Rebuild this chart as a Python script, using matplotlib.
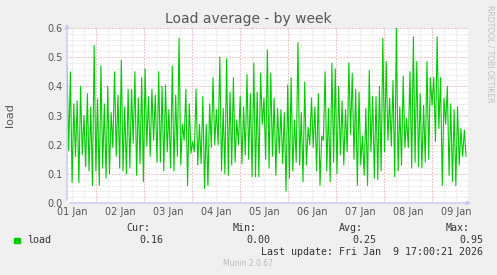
import numpy as np
import matplotlib
matplotlib.use('Agg')
from matplotlib import pyplot as plt

# time range in days after 01 Jan 00:00
t_start = 0.396
t_end = 8.708

# load samples (peak / trough pairs)
load = [
    0.47, 0.18, 0.45, 0.07, 0.34, 0.16, 0.35, 0.07, 0.40, 0.165, 0.30, 0.125, 0.375, 0.11,
    0.33, 0.06, 0.54, 0.11, 0.355, 0.06, 0.47, 0.12, 0.34, 0.085, 0.40, 0.10, 0.31, 0.19,
    0.45, 0.16, 0.37, 0.12, 0.49, 0.11, 0.33, 0.10, 0.39, 0.12, 0.39, 0.205, 0.45, 0.095,
    0.36, 0.135, 0.43, 0.073, 0.46, 0.195, 0.365, 0.16, 0.39, 0.215, 0.37, 0.14, 0.45, 0.14,
    0.40, 0.11, 0.405, 0.175, 0.32, 0.12, 0.47, 0.11, 0.37, 0.16, 0.565, 0.13, 0.27, 0.215,
    0.39, 0.06, 0.34, 0.17, 0.21, 0.175, 0.39, 0.13, 0.27, 0.135, 0.365, 0.05, 0.27, 0.06,
    0.34, 0.19, 0.43, 0.20,
    0.32, 0.20, 0.50, 0.11, 0.325, 0.10, 0.495, 0.095, 0.38, 0.13, 0.43, 0.14, 0.285, 0.20,
    0.365, 0.135, 0.33, 0.165, 0.44, 0.15, 0.375, 0.09, 0.48, 0.09, 0.38, 0.09, 0.445, 0.27,
    0.36, 0.15, 0.525, 0.12, 0.445, 0.16, 0.36, 0.095, 0.325, 0.17, 0.32, 0.135, 0.31, 0.04,
    0.405, 0.085, 0.43, 0.11, 0.285, 0.14, 0.55, 0.13, 0.31, 0.073, 0.415, 0.13, 0.26, 0.20,
    0.36, 0.19, 0.33, 0.11, 0.375, 0.06, 0.23, 0.215, 0.45, 0.11, 0.325, 0.073, 0.48, 0.14,
    0.46, 0.10, 0.40, 0.165, 0.35, 0.13, 0.32, 0.175, 0.48, 0.235, 0.445, 0.15, 0.39, 0.06,
    0.38, 0.13, 0.23, 0.095, 0.325, 0.06, 0.455, 0.175, 0.365, 0.085, 0.365, 0.08, 0.40, 0.11,
    0.565, 0.175, 0.485, 0.215, 0.36, 0.195, 0.42, 0.09, 0.60, 0.11, 0.33, 0.13, 0.435, 0.19,
    0.29, 0.19,
    0.45, 0.12, 0.57, 0.14, 0.485, 0.125, 0.375, 0.12, 0.335, 0.14, 0.485, 0.15, 0.43, 0.335,
    0.43, 0.21, 0.57, 0.255, 0.43, 0.06, 0.36, 0.27, 0.40, 0.095, 0.34, 0.073, 0.32, 0.06,
    0.33, 0.13, 0.255, 0.16, 0.25, 0.16,
]

day_labels = ['01 Jan', '02 Jan', '03 Jan', '04 Jan', '05 Jan', '06 Jan', '07 Jan', '08 Jan', '09 Jan']
y_ticks = [0.0, 0.1, 0.2, 0.3, 0.4, 0.5, 0.6]

stat_names = ['Cur:', 'Min:', 'Avg:', 'Max:']
stat_values = ['0.16', '0.00', '0.25', '0.95']

bg = '#f0f0f0'
green = '#00cc00'
axis_col = '#c8c8f0'

fig = plt.figure(figsize=(4.97, 2.75), dpi=100, facecolor=bg)
ax = fig.add_axes([67 / 497, 1 - 203 / 275, 402 / 497, 175 / 275])
ax.set_facecolor('white')

t = np.linspace(t_start, t_end, len(load))
ax.plot(t, load, color=green, lw=0.8, zorder=3)

ax.set_xlim(0.396, 8.77)
ax.set_ylim(0, 0.6)

# grid: minor gray, major red, dotted
for x in np.arange(0.5, 8.8, 0.25):
    ax.axvline(x, color='#d4d4d4', lw=0.72, ls=(0, (1, 2)), zorder=1)
for y in np.arange(0.02, 0.601, 0.02):
    ax.axhline(y, color='#d4d4d4', lw=0.72, ls=(0, (1, 2)), zorder=1)
for x in range(1, 9):
    ax.axvline(x, color='#e4a8a8', lw=0.72, ls=(0, (1, 2)), zorder=2)
for y in y_ticks[1:]:
    ax.axhline(y, color='#e4a8a8', lw=0.72, ls=(0, (1, 2)), zorder=2)

for s in ax.spines.values():
    s.set_visible(False)

ax.annotate('', xy=(0, 1.04), xytext=(0, 0), xycoords='axes fraction',
            arrowprops=dict(arrowstyle='-|>', color=axis_col, lw=1, mutation_scale=6))
ax.annotate('', xy=(1.012, 0), xytext=(0, 0), xycoords='axes fraction',
            arrowprops=dict(arrowstyle='-|>', color=axis_col, lw=1, mutation_scale=6))

ax.set_xticks([i + 0.5 for i in range(len(day_labels))])
ax.set_xticklabels(day_labels)
ax.set_yticks(y_ticks)
ax.set_yticklabels(['%.1f' % v for v in y_ticks])
ax.tick_params(length=0, labelsize=7, colors='#555555', pad=3)

fig.text(10 / 497, 1 - 115 / 275, 'load', rotation=90, ha='center', va='center',
         fontsize=8, color='#555555')

fig.text(248 / 497, 1 - 19 / 275, 'Load average - by week', ha='center', va='center',
         fontsize=10, color='#555555')
fig.text(490 / 497, 1 - 5 / 275, 'RRDTOOL / TOBI OETIKER', rotation=270, ha='center', va='top',
         fontsize=5.5, color='#c0c0c0')

# legend
mono = 'DejaVu Sans Mono'
fig.patches.append(plt.Rectangle((14 / 497, 1 - 243 / 275), 6 / 497, 5 / 275,
                                 transform=fig.transFigure, color=green))
fig.text(27 / 497, 1 - 240 / 275, 'load', ha='left', va='center', fontsize=7.2,
         family=mono, color='#333333')
name_right = [150, 257, 363, 470]
val_right = [163, 270, 376, 483]
for i in range(4):
    fig.text(name_right[i] / 497, 1 - 228 / 275, stat_names[i], ha='right', va='center',
             fontsize=7.2, family=mono, color='#333333')
    fig.text(val_right[i] / 497, 1 - 240 / 275, stat_values[i], ha='right', va='center',
             fontsize=7.2, family=mono, color='#333333')
fig.text(483 / 497, 1 - 252 / 275, 'Last update: Fri Jan  9 17:00:21 2026', ha='right',
         va='center', fontsize=7.2, family=mono, color='#333333')
fig.text(248 / 497, 1 - 264 / 275, 'Munin 2.0.67', ha='center', va='center', fontsize=5.5,
         color='#bbbbbb')

fig.savefig('out.png', dpi=100, facecolor=bg)
